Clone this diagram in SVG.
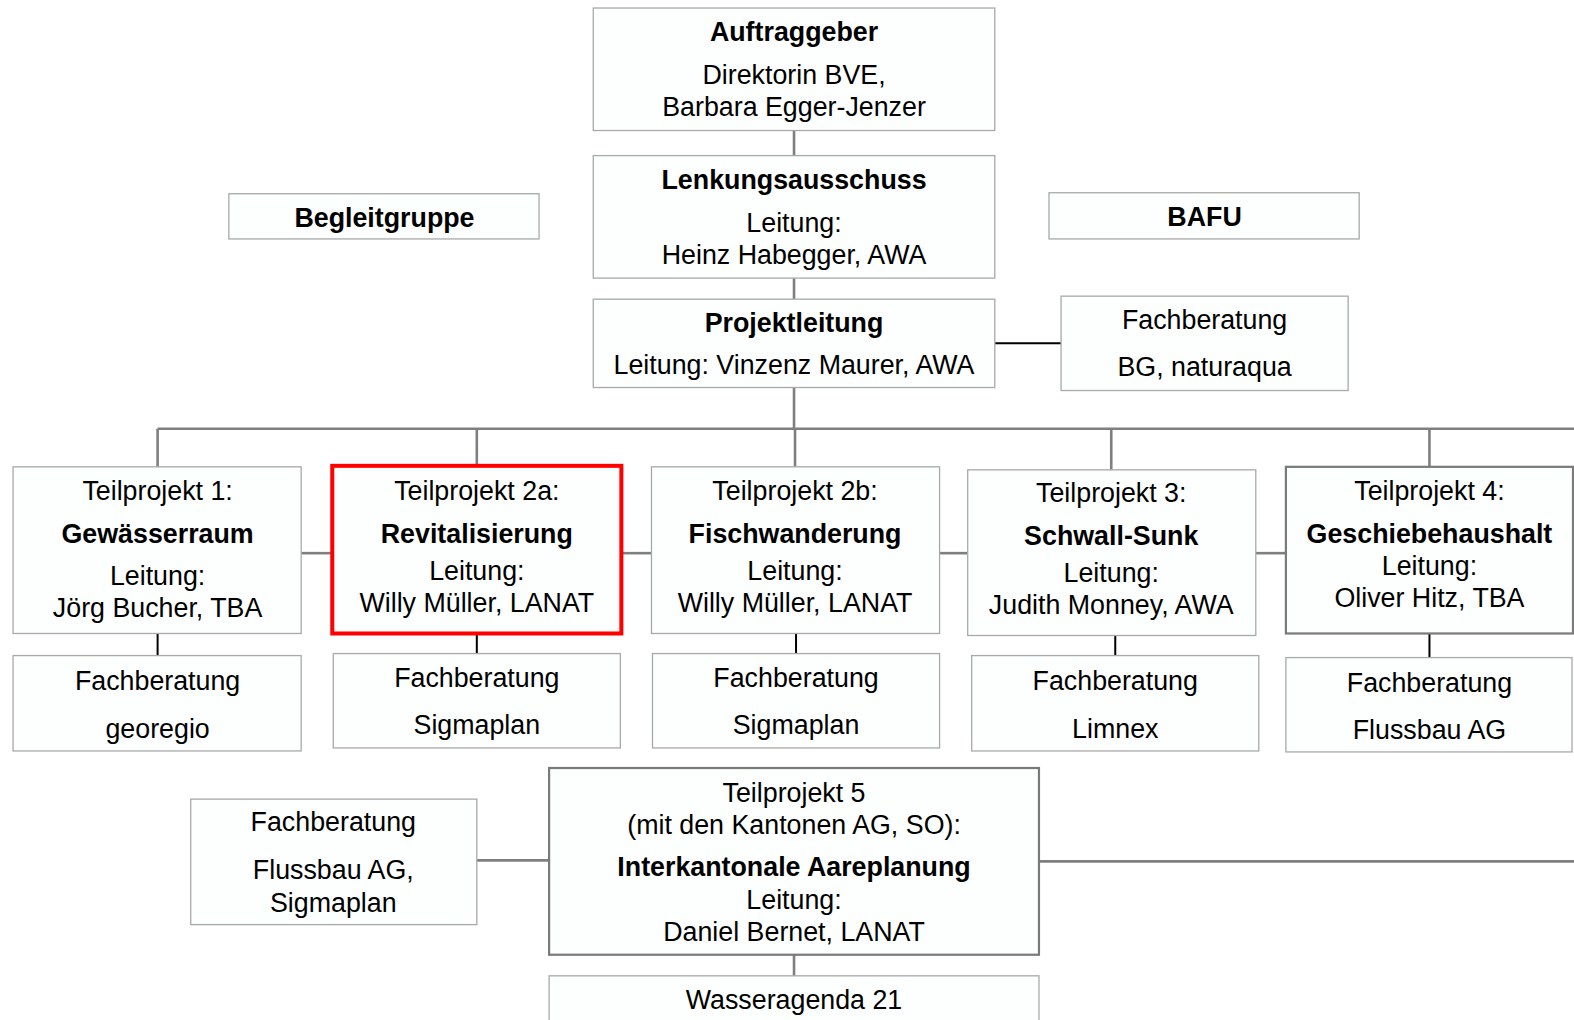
<svg xmlns="http://www.w3.org/2000/svg" width="1574" height="1020" viewBox="0 0 1574 1020">
<style>
.b{fill:#fdfefe;stroke:#a9a9a9;stroke-width:1.3}
.d{fill:#fdfefe;stroke:#7a7a7a;stroke-width:2.2}
.r{fill:#fdfefe;stroke:#ff0000;stroke-width:4}
text{font-family:"Liberation Sans",Arial,sans-serif;font-size:26.7px;fill:#000;text-anchor:middle}
.t{font-weight:bold}
.g{stroke:#7f7f7f;stroke-width:2.6;fill:none}
.k{stroke:#000;stroke-width:2;fill:none}
</style>
<rect width="1574" height="1020" fill="#ffffff"/>
<g transform="scale(1.00383 1.00394)">
<g id="connectors">
<line class="g" x1="791" y1="130" x2="791" y2="155"/>
<line class="g" x1="791" y1="277" x2="791" y2="298"/>
<line class="g" x1="791" y1="386" x2="791" y2="427"/>
<line class="k" x1="991" y1="342" x2="1057" y2="342"/>
<line class="g" x1="157" y1="427" x2="1574" y2="427"/>
<line class="g" x1="157" y1="427" x2="157" y2="465"/>
<line class="g" x1="475" y1="427" x2="475" y2="464"/>
<line class="g" x1="792" y1="427" x2="792" y2="465"/>
<line class="g" x1="1107" y1="427" x2="1107" y2="468"/>
<line class="g" x1="1424" y1="427" x2="1424" y2="465"/>
<line class="g" x1="300" y1="551" x2="331" y2="551"/>
<line class="g" x1="619" y1="551" x2="649" y2="551"/>
<line class="g" x1="936" y1="551" x2="964" y2="551"/>
<line class="g" x1="1251" y1="551" x2="1281" y2="551"/>
<line class="k" x1="157" y1="631" x2="157" y2="653" stroke-width="2.6"/>
<line class="k" x1="475" y1="631" x2="475" y2="651" stroke-width="1.5"/>
<line class="k" x1="793" y1="631" x2="793" y2="651" stroke-width="1.5"/>
<line class="k" x1="1111" y1="633" x2="1111" y2="653" stroke-width="1.5"/>
<line class="k" x1="1424" y1="631" x2="1424" y2="655" stroke-width="3"/>
<line class="g" x1="475" y1="857" x2="547" y2="857"/>
<line class="g" x1="1035" y1="858" x2="1574" y2="858"/>
<line class="g" x1="791" y1="951" x2="791" y2="972"/>
</g>
<g id="auftraggeber">
<rect class="b" x="591" y="8" width="400" height="122"/>
<text class="t" x="791" y="41">Auftraggeber</text>
<text x="791" y="84">Direktorin BVE,</text>
<text x="791" y="116">Barbara Egger-Jenzer</text>
</g>
<g id="lenkungsausschuss">
<rect class="b" x="591" y="155" width="400" height="122"/>
<text class="t" x="791" y="188">Lenkungsausschuss</text>
<text x="791" y="231">Leitung:</text>
<text x="791" y="263">Heinz Habegger, AWA</text>
</g>
<g id="begleitgruppe">
<rect class="b" x="228" y="193" width="309" height="45"/>
<text class="t" x="383" y="226">Begleitgruppe</text>
</g>
<g id="bafu">
<rect class="b" x="1045" y="192" width="309" height="46"/>
<text class="t" x="1200" y="225">BAFU</text>
</g>
<g id="projektleitung">
<rect class="b" x="591" y="298" width="400" height="88"/>
<text class="t" x="791" y="331">Projektleitung</text>
<text x="791" y="373">Leitung: Vinzenz Maurer, AWA</text>
</g>
<g id="fb-pl">
<rect class="b" x="1057" y="295" width="286" height="94"/>
<text x="1200" y="328">Fachberatung</text>
<text x="1200" y="375">BG, naturaqua</text>
</g>
<g id="tp1">
<rect class="b" x="13" y="465" width="287" height="166"/>
<text x="157" y="498">Teilprojekt 1:</text>
<text class="t" x="157" y="541">Gewässerraum</text>
<text x="157" y="583">Leitung:</text>
<text x="157" y="615">Jörg Bucher, TBA</text>
</g>
<g id="tp2a">
<rect class="r" x="331" y="464" width="288" height="167"/>
<text x="475" y="498">Teilprojekt 2a:</text>
<text class="t" x="475" y="541">Revitalisierung</text>
<text x="475" y="578">Leitung:</text>
<text x="475" y="610">Willy Müller, LANAT</text>
</g>
<g id="tp2b">
<rect class="b" x="649" y="465" width="287" height="166"/>
<text x="792" y="498">Teilprojekt 2b:</text>
<text class="t" x="792" y="541">Fischwanderung</text>
<text x="792" y="578">Leitung:</text>
<text x="792" y="610">Willy Müller, LANAT</text>
</g>
<g id="tp3">
<rect class="b" x="964" y="468" width="287" height="165"/>
<text x="1107" y="500">Teilprojekt 3:</text>
<text class="t" x="1107" y="543">Schwall-Sunk</text>
<text x="1107" y="580">Leitung:</text>
<text x="1107" y="612">Judith Monney, AWA</text>
</g>
<g id="tp4">
<rect class="d" x="1281" y="465" width="286" height="166"/>
<text x="1424" y="498">Teilprojekt 4:</text>
<text class="t" x="1424" y="541">Geschiebehaushalt</text>
<text x="1424" y="573">Leitung:</text>
<text x="1424" y="605">Oliver Hitz, TBA</text>
</g>
<g id="fb1">
<rect class="b" x="13" y="653" width="287" height="95"/>
<text x="157" y="687">Fachberatung</text>
<text x="157" y="735">georegio</text>
</g>
<g id="fb2a">
<rect class="b" x="332" y="651" width="286" height="94"/>
<text x="475" y="684">Fachberatung</text>
<text x="475" y="731">Sigmaplan</text>
</g>
<g id="fb2b">
<rect class="b" x="650" y="651" width="286" height="94"/>
<text x="793" y="684">Fachberatung</text>
<text x="793" y="731">Sigmaplan</text>
</g>
<g id="fb3">
<rect class="b" x="968" y="653" width="286" height="95"/>
<text x="1111" y="687">Fachberatung</text>
<text x="1111" y="735">Limnex</text>
</g>
<g id="fb4">
<rect class="b" x="1281" y="655" width="285" height="94"/>
<text x="1424" y="689">Fachberatung</text>
<text x="1424" y="736">Flussbau AG</text>
</g>
<g id="fb5">
<rect class="b" x="190" y="796" width="285" height="125"/>
<text x="332" y="828">Fachberatung</text>
<text x="332" y="876">Flussbau AG,</text>
<text x="332" y="908">Sigmaplan</text>
</g>
<g id="tp5">
<rect class="d" x="547" y="765" width="488" height="186"/>
<text x="791" y="799">Teilprojekt 5</text>
<text x="791" y="831">(mit den Kantonen AG, SO):</text>
<text class="t" x="791" y="873">Interkantonale Aareplanung</text>
<text x="791" y="905">Leitung:</text>
<text x="791" y="937">Daniel Bernet, LANAT</text>
</g>
<g id="wasseragenda">
<rect class="b" x="547" y="972" width="488" height="60"/>
<text x="791" y="1005">Wasseragenda 21</text>
</g>
</g>
</svg>
